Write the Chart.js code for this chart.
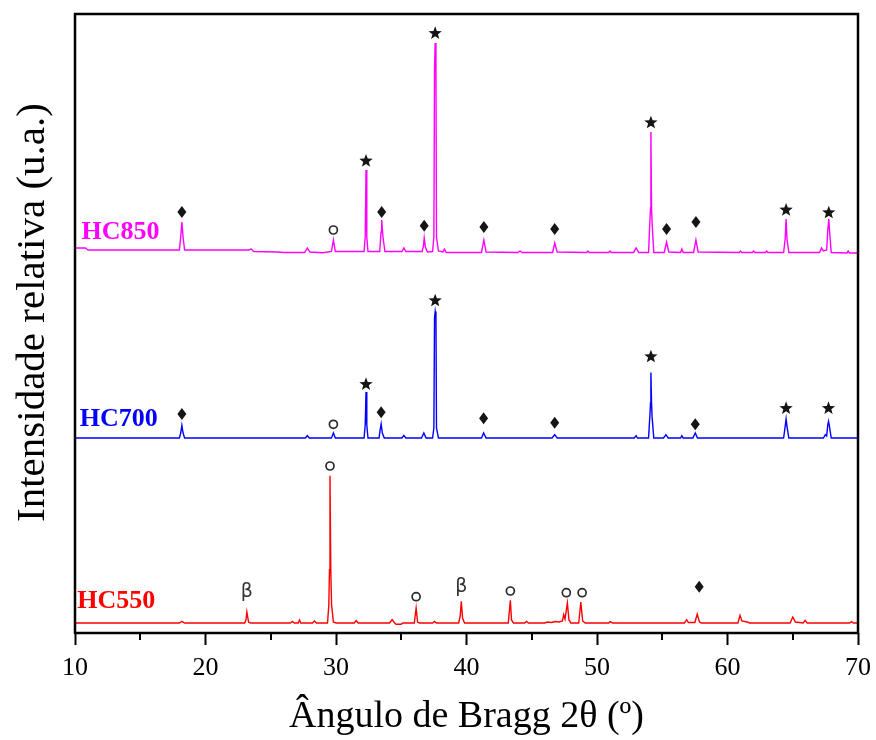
<!DOCTYPE html>
<html>
<head>
<meta charset="utf-8">
<script src="https://cdn.jsdelivr.net/npm/chart.js@4"></script>
<style>
  html, body { margin: 0; padding: 0; background: #fff; }
  #wrap { width: 876px; height: 740px; }
</style>
</head>
<body>
<div id="wrap"><canvas id="xrd"></canvas></div>
<script>
// 2θ range and tick labels
const thetaMin = 10, thetaMax = 70;
const majorTicks = [10, 20, 30, 40, 50, 60, 70];
const minorTicks = [15, 25, 35, 45, 55, 65];

// sample names and vertical offsets used to stack the patterns
const samples = ['HC550', 'HC700', 'HC850'];
const offsets = [0, 1850, 3710];
const colors = ['#ff0000', '#0000ff', '#ff00ff'];

// [2θ, counts] for each pattern
const hc550 = [
  [10, 100], [18.0, 100], [18.19, 116], [18.4, 100],
  [23.0, 100], [23.1, 130], [23.17, 210], [23.3, 110], [23.45, 100],
  [26.5, 100], [26.66, 116], [26.8, 100], [27.1, 100], [27.2, 130], [27.3, 100],
  [28.2, 100], [28.35, 120], [28.5, 100],
  [29.35, 100], [29.45, 283], [29.5, 633], [29.54, 1573], [29.6, 633], [29.66, 283], [29.8, 110], [30.0, 100],
  [31.4, 100], [31.54, 123], [31.7, 100],
  [34.1, 100], [34.3, 133], [34.5, 100], [34.6, 88], [35.0, 88], [35.1, 100],
  [36.0, 100], [36.14, 250], [36.25, 110], [36.4, 100],
  [37.4, 100], [37.55, 116], [37.7, 100],
  [39.4, 100], [39.52, 170], [39.6, 316], [39.7, 150], [39.85, 100],
  [43.2, 100], [43.36, 326], [43.45, 130], [43.6, 100],
  [44.45, 100], [44.6, 116], [44.75, 100],
  [46.0, 100], [46.2, 110], [46.5, 105], [46.8, 115], [47.1, 110],
  [47.35, 120], [47.45, 183], [47.55, 140], [47.73, 300], [47.85, 130], [48.0, 100],
  [48.6, 100], [48.76, 310], [48.9, 120], [49.1, 100],
  [50.9, 100], [51.0, 113], [51.2, 100],
  [56.7, 100], [56.87, 133], [57.0, 105], [57.5, 105], [57.68, 190], [57.85, 110], [58.0, 100],
  [60.8, 100], [60.96, 176], [61.1, 120], [61.5, 110], [61.7, 100],
  [64.8, 100], [65.0, 160], [65.2, 110], [65.8, 100], [65.95, 126], [66.1, 100],
  [69.35, 100], [69.5, 113], [69.65, 100], [70, 100]
];

const hc700 = [
  [10, 100], [18.0, 100], [18.1, 150], [18.19, 226], [18.28, 150], [18.4, 100],
  [27.65, 100], [27.8, 123], [27.95, 100],
  [29.65, 100], [29.8, 150], [29.95, 100],
  [32.15, 100], [32.24, 233], [32.3, 560], [32.36, 233], [32.45, 100],
  [33.3, 100], [33.38, 180], [33.46, 240], [33.55, 150], [33.7, 100],
  [35.05, 100], [35.2, 126], [35.35, 100],
  [36.55, 100], [36.73, 150], [36.9, 100],
  [37.4, 100], [37.5, 200], [37.55, 1303], [37.6, 1366], [37.66, 1303], [37.7, 200], [37.85, 100],
  [41.15, 100], [41.31, 150], [41.5, 100],
  [46.55, 100], [46.76, 133], [46.95, 100],
  [52.85, 100], [53.0, 123], [53.1, 100],
  [53.95, 100], [54.05, 316], [54.1, 450], [54.13, 756], [54.18, 450], [54.22, 316], [54.35, 100],
  [55.1, 100], [55.28, 133], [55.45, 100],
  [56.4, 100], [56.5, 123], [56.6, 100],
  [57.35, 100], [57.53, 150], [57.7, 100],
  [64.3, 100], [64.42, 216], [64.49, 290], [64.56, 216], [64.7, 100],
  [67.35, 100], [67.5, 133], [67.6, 120], [67.68, 226], [67.74, 266], [67.8, 226], [67.95, 100],
  [70, 100]
];

const hc850 = [
  [10, 140], [10.8, 140], [11.0, 120],
  [18.0, 120], [18.1, 250], [18.19, 400], [18.28, 250], [18.4, 120],
  [23.3, 120], [23.5, 130], [23.7, 105],
  [25.5, 100], [26.0, 95], [27.6, 95], [27.8, 140], [28.0, 100], [29.0, 92],
  [29.65, 105], [29.8, 220], [29.95, 105],
  [32.15, 105], [32.24, 250], [32.3, 920], [32.36, 250], [32.45, 105],
  [33.35, 105], [33.45, 300], [33.5, 420], [33.6, 250], [33.75, 105],
  [35.05, 105], [35.2, 140], [35.35, 105],
  [36.6, 105], [36.7, 160], [36.76, 240], [36.85, 150], [37.0, 100],
  [37.4, 105], [37.5, 250], [37.55, 1940], [37.6, 2190], [37.66, 1940], [37.7, 250], [37.85, 110],
  [38.2, 100], [38.3, 130], [38.45, 95],
  [41.15, 95], [41.33, 220], [41.5, 100],
  [43.95, 95], [44.1, 110], [44.25, 95],
  [46.6, 95], [46.76, 190], [46.95, 100],
  [49.2, 95], [49.3, 110], [49.4, 95], [50.9, 95], [51.0, 110], [51.1, 95],
  [52.8, 95], [53.0, 140], [53.2, 95],
  [53.95, 95], [54.05, 400], [54.1, 540], [54.13, 1300], [54.18, 540], [54.22, 400], [54.35, 95],
  [55.15, 95], [55.33, 200], [55.5, 100],
  [56.4, 95], [56.5, 130], [56.6, 95],
  [57.4, 95], [57.58, 220], [57.75, 100],
  [60.9, 95], [61.0, 110], [61.1, 95], [61.9, 95], [62.0, 110], [62.1, 95],
  [62.9, 95], [63.0, 110], [63.1, 95],
  [64.3, 95], [64.42, 230], [64.49, 430], [64.56, 230], [64.7, 95],
  [67.05, 95], [67.2, 140], [67.35, 110], [67.6, 120], [67.68, 310], [67.76, 430], [67.82, 310], [67.95, 95],
  [69.15, 90], [69.25, 110], [69.35, 90], [70, 90]
];

// phase marks above the peaks: [2θ, counts, symbol]
const hc550Marks = [
  [23.17, 413, 'β'], [29.54, 1670, 'o'], [36.14, 363, 'o'], [39.6, 463, 'β'],
  [43.36, 420, 'o'], [47.65, 403, 'o'], [48.86, 403, 'o'], [57.83, 463, '◆']
];
const hc700Marks = [
  [18.19, 340, '◆'], [29.8, 237, 'o'], [32.3, 637, '★'], [33.46, 357, '◆'],
  [37.6, 1473, '★'], [41.31, 297, '◆'], [46.76, 253, '◆'], [54.13, 913, '★'],
  [57.53, 237, '◆'], [64.49, 397, '★'], [67.74, 397, '★']
];
const hc850Marks = [
  [18.19, 500, '◆'], [29.8, 320, 'o'], [32.3, 1010, '★'], [33.5, 500, '◆'],
  [36.76, 363, '◆'], [37.6, 2287, '★'], [41.33, 350, '◆'], [46.76, 330, '◆'],
  [54.13, 1393, '★'], [55.33, 330, '◆'], [57.58, 400, '◆'], [64.49, 520, '★'],
  [67.76, 493, '★']
];

// where each sample name sits: [2θ, counts]
const nameSpots = [[10.17, 313], [10.36, 287], [10.5, 293]];

const patterns = [hc550, hc700, hc850];
const marks = [hc550Marks, hc700Marks, hc850Marks];

const serif = "'Liberation Serif', 'Times New Roman', serif";
const yTitle = 'Intensidade relativa (u.a.)';

function drawStar(ctx, cx, cy, r) {
  ctx.beginPath();
  for (let i = 0; i < 10; i++) {
    const rr = i % 2 === 0 ? r : r * 0.42;
    const a = -Math.PI / 2 + i * Math.PI / 5;
    ctx.lineTo(cx + rr * Math.cos(a), cy + rr * Math.sin(a));
  }
  ctx.closePath();
  ctx.fill();
}

function drawDiamond(ctx, cx, cy) {
  ctx.beginPath();
  ctx.moveTo(cx, cy - 6);
  ctx.lineTo(cx + 4.5, cy);
  ctx.lineTo(cx, cy + 6);
  ctx.lineTo(cx - 4.5, cy);
  ctx.closePath();
  ctx.fill();
}

const decorations = {
  id: 'decorations',
  afterDraw(chart) {
    const { ctx, chartArea: a, scales: { x, y } } = chart;
    ctx.save();

    // frame round the plot
    ctx.strokeStyle = '#000';
    ctx.lineWidth = 2.5;
    ctx.strokeRect(a.left, a.top, a.right - a.left, a.bottom - a.top);

    // minor ticks on the 2θ axis
    ctx.lineWidth = 2;
    minorTicks.forEach(t => {
      const px = Math.round(x.getPixelForValue(t));
      ctx.beginPath();
      ctx.moveTo(px, a.bottom);
      ctx.lineTo(px, a.bottom + 7);
      ctx.stroke();
    });

    // phase symbols
    marks.forEach((list, i) => {
      list.forEach(([t, v, sym]) => {
        const px = x.getPixelForValue(t);
        const py = y.getPixelForValue(v + offsets[i]);
        ctx.fillStyle = '#151515';
        ctx.strokeStyle = '#2a2a2a';
        if (sym === '★') {
          drawStar(ctx, px, py, 7);
        } else if (sym === '◆') {
          drawDiamond(ctx, px, py);
        } else if (sym === 'o') {
          ctx.lineWidth = 1.7;
          ctx.beginPath();
          ctx.arc(px, py, 4, 0, Math.PI * 2);
          ctx.stroke();
        } else {
          ctx.fillStyle = '#333';
          ctx.font = "19px 'DejaVu Sans', sans-serif";
          ctx.textAlign = 'center';
          ctx.textBaseline = 'middle';
          ctx.fillText(sym, px, py);
        }
      });
    });

    // sample names
    ctx.font = 'bold 26px ' + serif;
    ctx.textAlign = 'left';
    ctx.textBaseline = 'middle';
    samples.forEach((name, i) => {
      ctx.fillStyle = colors[i];
      const [t, v] = nameSpots[i];
      ctx.fillText(name, x.getPixelForValue(t), y.getPixelForValue(v + offsets[i]));
    });

    // intensity axis title, rotated
    ctx.fillStyle = '#000';
    ctx.font = '41px ' + serif;
    ctx.textAlign = 'center';
    ctx.textBaseline = 'middle';
    ctx.translate(33, (a.top + a.bottom) / 2 - 11);
    ctx.rotate(-Math.PI / 2);
    ctx.fillText(yTitle, 0, 0);

    ctx.restore();
  }
};

const datasets = patterns.map((pts, i) => ({
  label: samples[i],
  data: pts.map(([t, c]) => ({ x: t, y: c + offsets[i] })),
  borderColor: colors[i],
  borderWidth: 1.4,
  pointRadius: 0,
  tension: 0,
  fill: false
}));

new Chart(document.getElementById('xrd'), {
  type: 'line',
  data: { datasets },
  options: {
    responsive: true,
    maintainAspectRatio: false,
    animation: false,
    devicePixelRatio: 1,
    layout: { padding: { top: 14, right: 18, left: 0, bottom: 0 } },
    plugins: { legend: { display: false }, tooltip: { enabled: false } },
    scales: {
      x: {
        type: 'linear',
        min: thetaMin,
        max: thetaMax,
        afterFit: s => { s.height = 107; s.paddingLeft = 0; s.paddingRight = 0; },
        afterBuildTicks: s => { s.ticks = majorTicks.map(v => ({ value: v })); },
        ticks: { color: '#000', font: { family: serif, size: 26 }, padding: 8, maxRotation: 0 },
        grid: { drawOnChartArea: false, drawTicks: true, tickLength: 12, tickWidth: 2, tickColor: '#000' },
        border: { display: false },
        title: {
          display: true,
          text: 'Ângulo de Bragg 2θ (º)',
          color: '#000',
          font: { family: serif, size: 38 },
          padding: { top: 0, bottom: 0 }
        }
      },
      y: {
        type: 'linear',
        min: 0,
        max: 6190,
        afterFit: s => { s.width = 75; },
        ticks: { display: false },
        grid: { display: false },
        border: { display: false }
      }
    }
  },
  plugins: [decorations]
});
</script>
</body>
</html>
